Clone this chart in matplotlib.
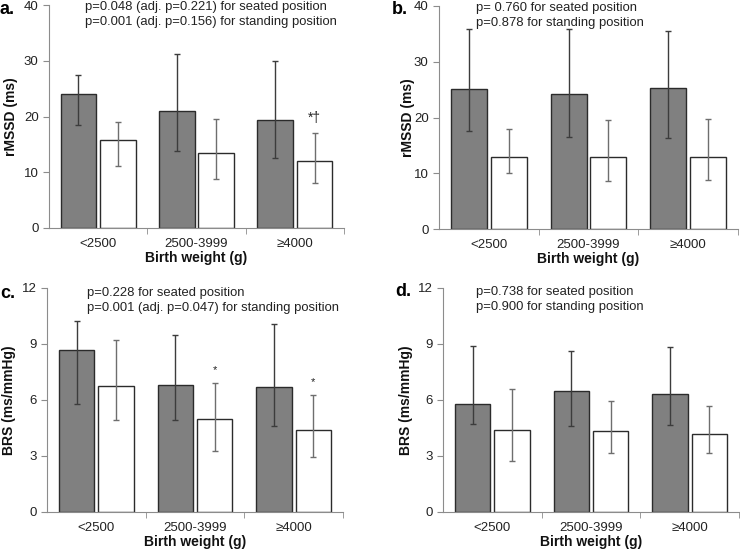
import numpy as np
import matplotlib.pyplot as plt

plt.rcParams['font.family'] = ['Liberation Sans', 'DejaVu Sans']

categories = ['<2500', '2500-3999', '≥4000']

# panel a: rMSSD (ms), bar value with lower / upper error limits
a_seat = [24.0, 20.9, 19.4]
a_seat_lo = [18.4, 13.9, 12.5]
a_seat_hi = [27.5, 31.2, 29.9]
a_stand = [15.7, 13.5, 12.1]
a_stand_lo = [11.2, 8.8, 8.0]
a_stand_hi = [19.1, 19.5, 17.0]

# panel b: rMSSD (ms)
b_seat = [25.1, 24.3, 25.3]
b_seat_lo = [17.5, 16.5, 16.3]
b_seat_hi = [35.8, 35.8, 35.6]
b_stand = [13.0, 12.9, 12.9]
b_stand_lo = [10.1, 8.6, 8.7]
b_stand_hi = [18.0, 19.5, 19.8]

# panel c: BRS (ms/mmHg)
c_seat = [8.66, 6.79, 6.68]
c_seat_lo = [5.77, 4.91, 4.62]
c_seat_hi = [10.22, 9.50, 10.07]
c_stand = [6.74, 4.96, 4.37]
c_stand_lo = [4.91, 3.26, 2.94]
c_stand_hi = [9.21, 6.90, 6.29]

# panel d: BRS (ms/mmHg)
d_seat = [5.78, 6.50, 6.34]
d_seat_lo = [4.69, 4.60, 4.67]
d_seat_hi = [8.90, 8.62, 8.85]
d_stand = [4.38, 4.33, 4.17]
d_stand_lo = [2.73, 3.14, 3.14]
d_stand_hi = [6.59, 5.94, 5.67]

a_notes = ['p=0.048 (adj. p=0.221) for seated position',
           'p=0.001 (adj. p=0.156) for standing position']
b_notes = ['p= 0.760 for seated position', 'p=0.878 for standing position']
c_notes = ['p=0.228 for seated position',
           'p=0.001 (adj. p=0.047) for standing position']
d_notes = ['p=0.738 for seated position', 'p=0.900 for standing position']

a_marks = ['', '', '*†']
c_marks = ['', '*', '*']

W, H = 740, 550
fig = plt.figure(figsize=(W / 100, H / 100), dpi=100)


def px_axes(x0, y0, x1, y1):
    # pixel box (left, top, right, bottom) -> figure axes
    return fig.add_axes([x0 / W, 1 - y1 / H, (x1 - x0) / W, (y1 - y0) / H])


def panel(ax, seat, s_lo, s_hi, stand, t_lo, t_hi, ymax, step, ylabel, ylab_x, marks=None):
    x = np.arange(len(categories))
    w = 0.36
    ax.bar(x - 0.2, seat, w, color='#808080', edgecolor='#2b2b2b', linewidth=1, zorder=2)
    ax.bar(x + 0.2, stand, w, color='white', edgecolor='#2b2b2b', linewidth=1, zorder=2)
    seat = np.array(seat)
    stand = np.array(stand)
    ax.errorbar(x - 0.2, seat, yerr=[seat - np.array(s_lo), np.array(s_hi) - seat],
                fmt='none', ecolor='#3c3c3c', elinewidth=1, capsize=2, capthick=1, zorder=3)
    ax.errorbar(x + 0.2, stand, yerr=[stand - np.array(t_lo), np.array(t_hi) - stand],
                fmt='none', ecolor='#6e6e6e', elinewidth=1, capsize=2, capthick=1, zorder=3)
    if marks:
        for i, m in enumerate(marks):
            if m:
                ax.text(x[i] + 0.2, t_hi[i] + ymax * 0.035, m, ha='center', va='bottom',
                        fontsize=8 if m == '*' else 10, color='#222222')
    ax.set_xlim(-0.5, 2.5)
    ax.set_ylim(0, ymax)
    ax.set_yticks(np.arange(0, ymax + step / 2, step))
    ax.set_xticks(x)
    ax.set_xticklabels(categories)
    ax.set_xticks([0.5, 1.5, 2.5], minor=True)
    ax.tick_params(axis='x', which='major', length=0, labelsize=9.5, pad=7, colors='#222222')
    ax.tick_params(axis='x', which='minor', length=4, color='#8c8c8c', direction='out')
    ax.tick_params(axis='y', length=4, color='#8c8c8c', labelsize=9.5, labelcolor='#222222')
    for s in ['top', 'right']:
        ax.spines[s].set_visible(False)
    for s in ['left', 'bottom']:
        ax.spines[s].set_color('#8c8c8c')
    ax.set_xlabel('Birth weight (g)', fontsize=10, fontweight='bold', labelpad=1, color='#111111')
    ax.set_ylabel(ylabel, fontsize=10, fontweight='bold', color='#111111')
    ax.yaxis.set_label_coords(ylab_x, 0.5)


ax_a = px_axes(49, 5, 344, 228)
panel(ax_a, a_seat, a_seat_lo, a_seat_hi, a_stand, a_stand_lo, a_stand_hi, 40, 10,
      'rMSSD (ms)', -0.105, a_marks)
ax_b = px_axes(439, 6, 738, 229)
panel(ax_b, b_seat, b_seat_lo, b_seat_hi, b_stand, b_stand_lo, b_stand_hi, 40, 10,
      'rMSSD (ms)', -0.08)
ax_c = px_axes(47, 288, 343, 512)
panel(ax_c, c_seat, c_seat_lo, c_seat_hi, c_stand, c_stand_lo, c_stand_hi, 12, 3,
      'BRS (ms/mmHg)', -0.105, c_marks)
ax_d = px_axes(443, 288, 739, 512)
panel(ax_d, d_seat, d_seat_lo, d_seat_hi, d_stand, d_stand_lo, d_stand_hi, 12, 3,
      'BRS (ms/mmHg)', -0.1)


def ftext(x, y, s, **kw):
    fig.text(x / W, 1 - y / H, s, **kw)


for lx, ly, letter in [(0, 9, 'a.'), (392, 9, 'b.'), (0, 293, 'c.'), (395, 291, 'd.')]:
    ftext(lx, ly, letter, fontsize=13, fontweight='bold', va='center', ha='left')

for nx, ny, notes in [(85, 7, a_notes), (476, 8, b_notes), (87, 293, c_notes), (476, 292, d_notes)]:
    for k, line in enumerate(notes):
        ftext(nx, ny + 15 * k, line, fontsize=9.4, va='center', ha='left', color='#222222')

fig.savefig('out.png', dpi=100, facecolor='white')
